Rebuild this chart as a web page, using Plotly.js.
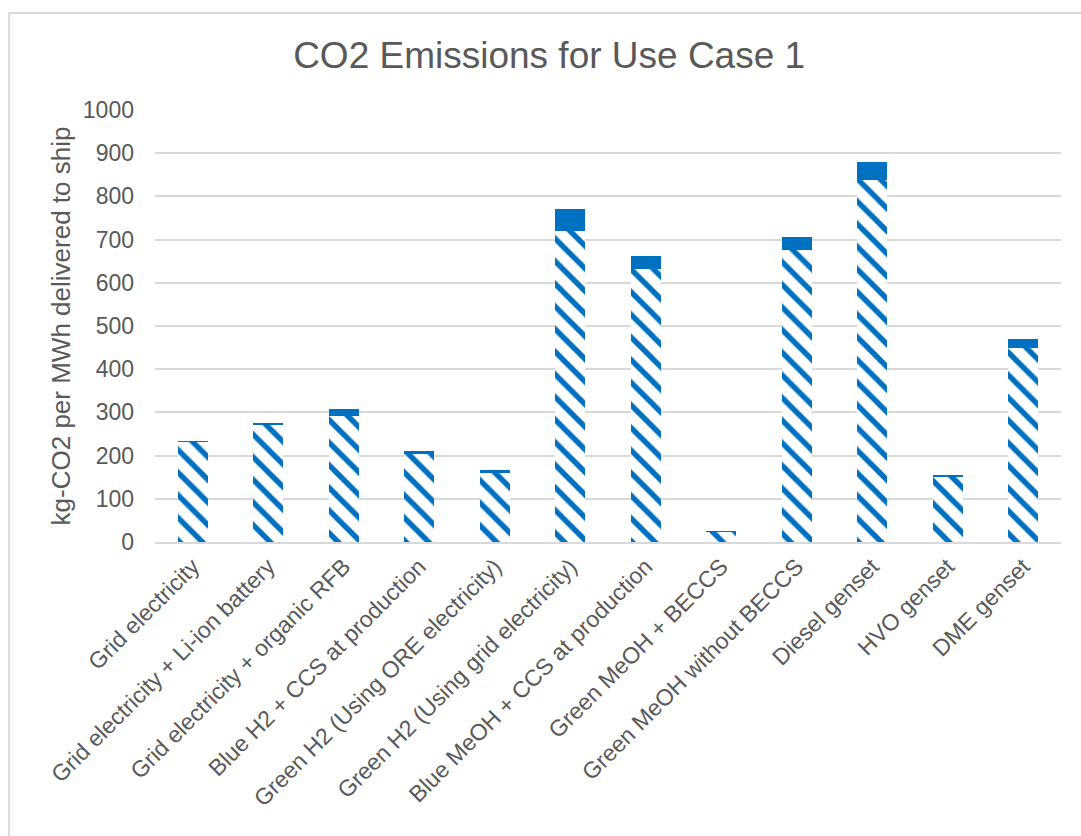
<!DOCTYPE html>
<html>
<head>
<meta charset="utf-8">
<script src="https://cdn.plot.ly/plotly-3.0.1.min.js"></script>
<style>html,body{margin:0;padding:0;background:#fff;}#chart{width:1081px;height:836px;}</style>
</head>
<body>
<div id="chart"></div>
<script>
const categories = [
  "Grid electricity",
  "Grid electricity + Li-ion battery",
  "Grid electricity + organic RFB",
  "Blue H2 + CCS at production",
  "Green H2 (Using ORE electricity)",
  "Green H2 (Using grid electricity)",
  "Blue MeOH + CCS at production",
  "Green MeOH + BECCS",
  "Green MeOH without BECCS",
  "Diesel genset",
  "HVO genset",
  "DME genset"
];
const baseValues = [232, 271, 291, 203, 159, 720, 633, 24, 675, 839, 151, 448];
const topValues  = [1, 4, 16, 7, 7, 50, 28, 1, 32, 41, 5, 21];
const yTicks = [0, 100, 200, 300, 400, 500, 600, 700, 800, 900, 1000];

const blue = "#0070C0";
const textCol = "#595959";
const font = "Liberation Sans, Arial, sans-serif";

const traces = [
  {
    type: "bar", name: "Series 1", x: categories, y: baseValues,
    marker: {color: "#ffffff", line: {width: 0},
      pattern: {shape: "\\", fgcolor: blue, bgcolor: "#ffffff", size: 16, solidity: 0.34, fillmode: "replace"}},
    hoverinfo: "x+y"
  },
  {
    type: "bar", name: "Series 2", x: categories, y: topValues,
    marker: {color: blue, line: {width: 0}},
    hoverinfo: "x+y"
  }
];

const layout = {
  width: 1081, height: 836,
  barmode: "stack",
  bargap: 0.6,
  showlegend: false,
  paper_bgcolor: "#ffffff",
  plot_bgcolor: "#ffffff",
  margin: {l: 155, r: 20, t: 110, b: 294},
  title: {text: "CO2 Emissions for Use Case 1", font: {family: font, size: 37, color: textCol},
          x: 0.508, xanchor: "center", y: 0.934, yref: "container", yanchor: "middle"},
  xaxis: {
    tickangle: -45, tickfont: {family: font, size: 23, color: textCol},
    showgrid: false, showline: true, linecolor: "#d9d9d9", linewidth: 2,
    ticks: "", automargin: false
  },
  yaxis: {
    range: [0, 1000], tickvals: yTicks, ticktext: yTicks.map(String),
    tickfont: {family: font, size: 23, color: textCol},
    showgrid: true, gridcolor: "#d9d9d9", gridwidth: 2, zeroline: false,
    showline: false, ticks: "", ticklabelstandoff: 20, automargin: false,
    title: {text: "kg-CO2 per MWh delivered to ship", font: {family: font, size: 26, color: textCol}, standoff: 4}
  },
  shapes: [
    {type: "rect", xref: "paper", yref: "paper", x0: -0.161, x1: 1.03, y0: -0.7, y1: 1.2245,
     line: {color: "#d9d9d9", width: 2}, fillcolor: "rgba(0,0,0,0)", layer: "below"}
  ]
};

Plotly.newPlot("chart", traces, layout, {displayModeBar: false, staticPlot: true});
</script>
</body>
</html>
